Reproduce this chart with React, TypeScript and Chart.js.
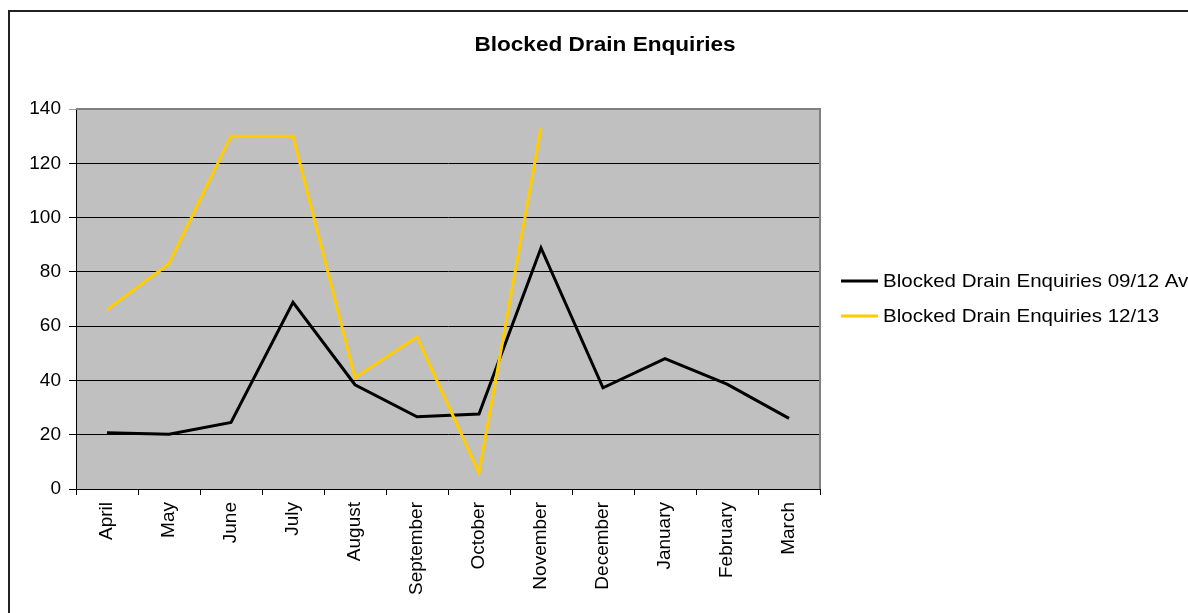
import React, { useEffect, useRef } from "react";
import { Chart, registerables } from "chart.js";

Chart.register(...registerables);

const months = [
  "April", "May", "June", "July", "August", "September",
  "October", "November", "December", "January", "February", "March",
];
const average0912 = [20.7, 20.2, 24.5, 68.8, 38.4, 26.6, 27.6, 88.8, 37.3, 48, 38.6, 26];
const enquiries1213 = [66, 83, 130, 130, 41, 56, 6, 133, null, null, null, null];
const seriesLabels = ["Blocked Drain Enquiries 09/12 Av", "Blocked Drain Enquiries 12/13"];
const seriesColors = ["#000000", "#FFCC00"];
const titleText = "Blocked Drain Enquiries";

const FONT = "'Liberation Sans', Arial, sans-serif";

// draws text with a horizontal stretch factor
function stretchedText(ctx: CanvasRenderingContext2D, text: string, x: number, y: number, sx: number) {
  ctx.save();
  ctx.translate(x, y);
  ctx.scale(sx, 1);
  ctx.fillText(text, 0, 0);
  ctx.restore();
}

const framePlugin = {
  id: "frame",
  beforeDraw(chart: any) {
    const { ctx, chartArea: a } = chart;
    ctx.save();
    ctx.fillStyle = "#ffffff";
    ctx.fillRect(0, 0, chart.width, chart.height);
    // outer frame
    ctx.strokeStyle = "#222222";
    ctx.lineWidth = 2;
    ctx.beginPath();
    ctx.moveTo(9, chart.height);
    ctx.lineTo(9, 11);
    ctx.lineTo(chart.width, 11);
    ctx.stroke();
    // plot background
    ctx.fillStyle = "#C0C0C0";
    ctx.fillRect(a.left, a.top, a.right - a.left, a.bottom - a.top);
    ctx.restore();
  },
  beforeDatasetsDraw(chart: any) {
    const { ctx, chartArea: a } = chart;
    ctx.save();
    ctx.strokeStyle = "#808080";
    ctx.lineWidth = 2;
    ctx.beginPath();
    ctx.moveTo(a.left, a.top);
    ctx.lineTo(a.right, a.top);
    ctx.lineTo(a.right, a.bottom);
    ctx.stroke();
    ctx.restore();
  },
  afterDraw(chart: any) {
    const { ctx } = chart;
    ctx.save();
    // title
    ctx.fillStyle = "#000";
    ctx.font = `bold 20px ${FONT}`;
    ctx.textAlign = "center";
    ctx.textBaseline = "middle";
    stretchedText(ctx, titleText, 605, 45, 1.13);
    // legend
    ctx.font = `19px ${FONT}`;
    ctx.textAlign = "left";
    const rows = [281, 316];
    chart.data.datasets.forEach((ds: any, i: number) => {
      const y = rows[i];
      ctx.strokeStyle = ds.borderColor;
      ctx.lineWidth = 3;
      ctx.beginPath();
      ctx.moveTo(841, y);
      ctx.lineTo(878, y);
      ctx.stroke();
      ctx.fillStyle = "#000";
      stretchedText(ctx, ds.label, 883, y + 1, 1.08);
    });
    ctx.restore();
  },
};

export default function App() {
  const ref = useRef<HTMLCanvasElement | null>(null);

  useEffect(() => {
    if (!ref.current) return;
    const chart = new Chart(ref.current, {
      type: "line",
      data: {
        labels: months,
        datasets: [
          {
            label: seriesLabels[0],
            data: average0912,
            borderColor: seriesColors[0],
            backgroundColor: seriesColors[0],
            borderWidth: 3,
            pointRadius: 0,
            tension: 0,
            order: 1,
          },
          {
            label: seriesLabels[1],
            data: enquiries1213,
            borderColor: seriesColors[1],
            backgroundColor: seriesColors[1],
            borderWidth: 3,
            pointRadius: 0,
            tension: 0,
            spanGaps: false,
            order: 0,
          },
        ],
      },
      options: {
        animation: false,
        responsive: false,
        devicePixelRatio: 1,
        layout: { padding: { top: 109, left: 0, right: 368, bottom: 0 } },
        plugins: {
          legend: { display: false },
          title: { display: false },
          tooltip: { enabled: false },
        },
        scales: {
          x: {
            offset: true,
            grid: {
              offset: true,
              drawOnChartArea: false,
              drawTicks: true,
              tickLength: 6,
              color: "#000",
            },
            border: { color: "#000", width: 1 },
            ticks: {
              color: "#000",
              font: { family: FONT, size: 19 },
              maxRotation: 90,
              minRotation: 90,
              padding: 7,
              autoSkip: false,
            },
            afterFit(scale: any) {
              scale.height = 124;
            },
          },
          y: {
            min: 0,
            max: 140,
            grid: {
              color: (c: any) => (c.tick && c.tick.value === 140 ? "#A0A0A0" : "#000"),
              tickLength: 7,
              lineWidth: 1,
            },
            border: { color: "#000", width: 1 },
            ticks: {
              stepSize: 20,
              color: "#000",
              font: { family: FONT, size: 19 },
              padding: 8,
            },
            afterFit(scale: any) {
              scale.width = 76;
            },
          },
        },
      },
      plugins: [framePlugin],
    });
    return () => chart.destroy();
  }, []);

  return (
    <div style={{ position: "absolute", left: 0, top: 0, width: 1188, height: 613 }}>
      <canvas ref={ref} width={1188} height={613} />
    </div>
  );
}
